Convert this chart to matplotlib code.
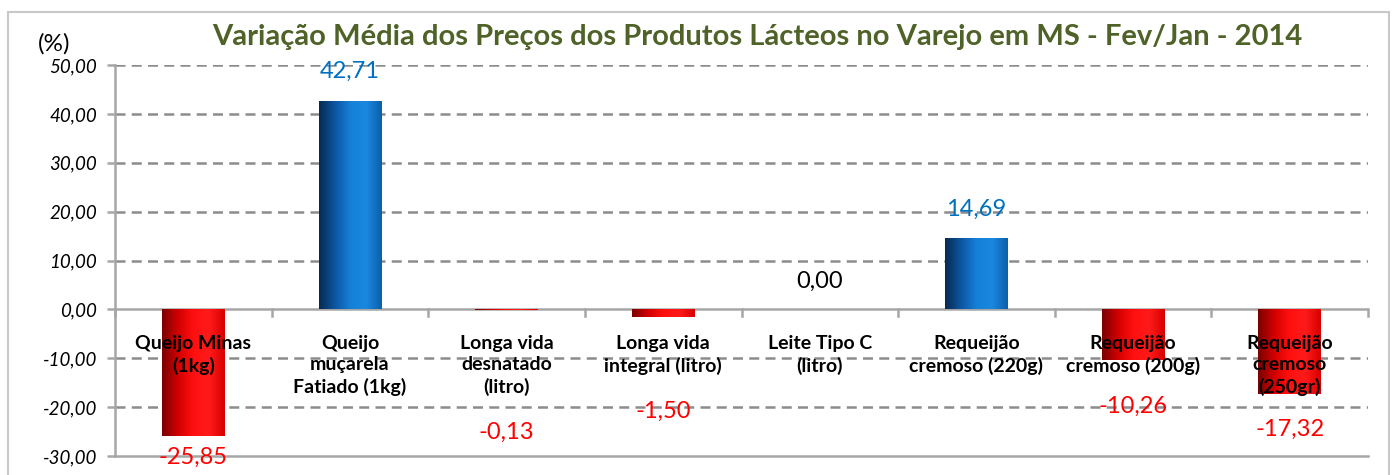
import matplotlib
matplotlib.use("Agg")
import matplotlib.pyplot as plt
import numpy as np
from matplotlib.colors import LinearSegmentedColormap
from matplotlib.patches import Rectangle

categories = ["Queijo Minas\n(1kg)", "Queijo\nmuçarela\nFatiado (1kg)", "Longa vida\ndesnatado\n(litro)",
              "Longa vida\nintegral (litro)", "Leite Tipo C\n(litro)", "Requeijão\ncremoso (220g)",
              "Requeijão\ncremoso (200g)", "Requeijão\ncremoso\n(250gr)"]
values = [-25.85, 42.71, -0.13, -1.50, 0.00, 14.69, -10.26, -17.32]
yticks = [50, 40, 30, 20, 10, 0, -10, -20, -30]
title = "Variação Média dos Preços dos Produtos Lácteos no Varejo em MS - Fev/Jan - 2014"

# label positions (manual placement as in the original)
label_y = [-30.3, 48.7, -25.2, -20.9, 5.7, 20.4, -19.8, -24.5]

FONT = ["Lato", "DejaVu Sans"]
plt.rcParams['font.family'] = FONT

fig = plt.figure(figsize=(13.97, 4.75), dpi=100)
fig.patches.append(Rectangle((8/1397, -0.1), (1389-8)/1397, 1.1 - 12/475, transform=fig.transFigure,
                             fill=False, edgecolor="#c8c8c8", linewidth=1.5))
ax = fig.add_axes([115/1397, 1 - 456/475, (1368-115)/1397, (456-65)/475])

x = np.arange(len(values))
bars = ax.bar(x, values, width=0.4, color="none", edgecolor="none", zorder=3)

blue = LinearSegmentedColormap.from_list("b", ["#062a50", "#0d55a0", "#1580d8", "#1a88e0", "#0d5fa8"])
red = LinearSegmentedColormap.from_list("r", ["#7a0000", "#d00000", "#ff1010", "#ff1a1a", "#d80000"])
grad = np.linspace(0, 1, 256).reshape(1, -1)
for b, v in zip(bars, values):
    if v == 0:
        continue
    x0, w = b.get_x(), b.get_width()
    y0, h = b.get_y(), b.get_height()
    cmap = blue if v > 0 else red
    im = ax.imshow(grad, cmap=cmap, aspect="auto", extent=[x0, x0 + w, y0, y0 + h], zorder=3,
                   interpolation="bilinear")
    rect = Rectangle((x0, y0), w, h, transform=ax.transData, facecolor="none", edgecolor="none")
    ax.add_patch(rect)
    im.set_clip_path(rect)

ax.set_xlim(-0.5, len(values) - 0.5)
ax.set_ylim(-30, 50)

# gridlines
for t in yticks:
    if t in (0, -30):
        continue
    ax.axhline(t, color="#8c8c8c", linestyle=(0, (4, 2.5)), linewidth=1.8, zorder=1)
ax.axhline(0, color="#a6a6a6", linewidth=1.8, zorder=2)
for b in np.arange(-0.5, len(values), 1.0):
    ax.plot([b, b], [0, -1.4], color="#a6a6a6", linewidth=1.8, zorder=2, clip_on=False)

for s in ["top", "right"]:
    ax.spines[s].set_visible(False)
ax.spines["left"].set_color("#a6a6a6")
ax.spines["left"].set_linewidth(1.8)
ax.spines["bottom"].set_color("#a6a6a6")
ax.spines["bottom"].set_linewidth(1.8)

ax.set_yticks(yticks)
ax.set_yticklabels([f"{t:.2f}".replace(".", ",") for t in yticks], fontstyle="italic", fontsize=13.5)
ax.tick_params(axis="y", length=6, width=1.8, color="#a6a6a6", pad=7)
ax.set_xticks([])

# category labels
for xi, c in zip(x, categories):
    ax.text(xi, -5.3, c, ha="center", va="top", fontsize=14, fontweight="bold",
            linespacing=1.3, zorder=5)

# value labels
for xi, v, ly in zip(x, values, label_y):
    col = "#0070c0" if v > 0 else ("#ff0000" if v < 0 else "black")
    ax.text(xi, ly, f"{v:.2f}".replace(".", ","), ha="center", va="center", fontsize=17,
            color=col, zorder=6)

fig.text(757/1397, 1 - 37/475, title, ha="center", va="center", fontsize=21, fontweight="bold",
         color="#4f6228")
fig.text(38/1397, 1 - 44/475, "(%)", ha="left", va="center", fontsize=17.5)

fig.savefig("out.png", dpi=100)
